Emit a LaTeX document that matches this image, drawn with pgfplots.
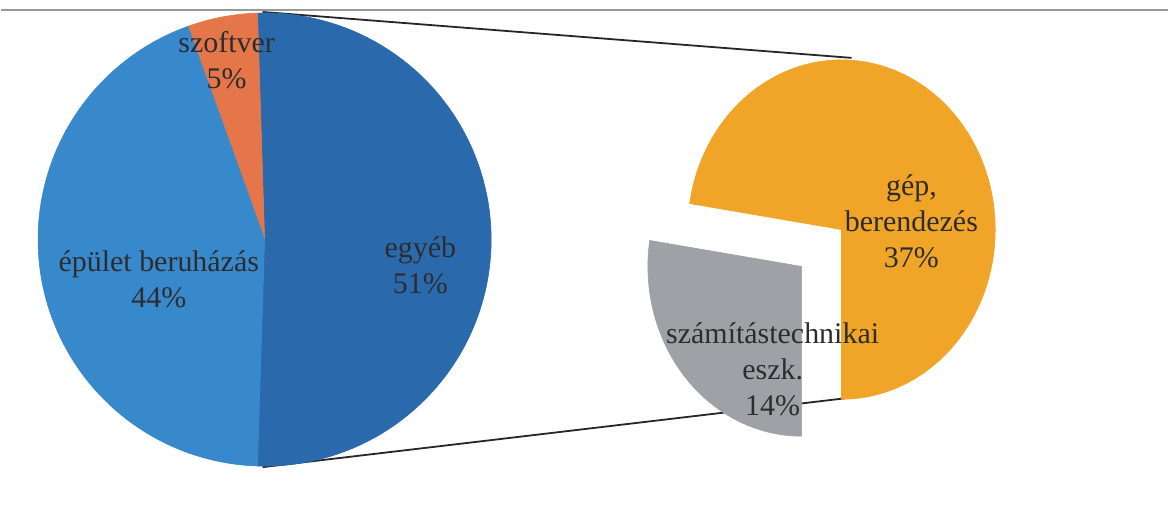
\documentclass[border=0pt]{standalone}
\usepackage{pgfplots}
\pgfplotsset{compat=1.18}
\usepackage{fontspec}
\setmainfont{Liberation Serif}
\definecolor{egyeb}{RGB}{42,106,172}
\definecolor{epulet}{RGB}{56,136,204}
\definecolor{szoftver}{RGB}{228,118,74}
\definecolor{gep}{RGB}{240,164,40}
\definecolor{szam}{RGB}{158,161,166}
\definecolor{txt}{RGB}{45,45,48}
\tikzset{lbl/.style={text=txt,align=center,font=\fontsize{15}{18}\selectfont,inner sep=0pt}}
% shares (per cent)
\def\pEgyeb{51}
\def\pEpulet{44}
\def\pSzoftver{5}
\def\pGep{37}
\def\pSzam{14}
\pgfmathsetmacro{\aA}{-1.8*\pEgyeb}
\pgfmathsetmacro{\aB}{1.8*\pEgyeb}
\pgfmathsetmacro{\aC}{\aB+3.6*\pSzoftver}
\pgfmathsetmacro{\aD}{\aC+3.6*\pEpulet}
\pgfmathsetmacro{\bA}{-90}
\pgfmathsetmacro{\bB}{-90+360*\pGep/(\pGep+\pSzam)}
\pgfmathsetmacro{\bC}{270}
\begin{document}
\begin{tikzpicture}
\begin{axis}[x=0.5pt,y=0.5pt,xmin=0,xmax=1169,ymin=0,ymax=528,
  hide axis,clip=false]
\addplot[draw=none,forget plot] coordinates {(0,0) (1169,528)};
% top rule
\addplot[gray!80,line width=1.1pt] coordinates {(0,518) (1169,518)};
% connector lines
\addplot[black!85,line width=0.9pt] coordinates {(262,516) (852,470)};
\addplot[black!85,line width=0.9pt] coordinates {(262,60) (846,129)};
% left pie
\addplot[fill=egyeb,draw=egyeb,line width=0.3pt,domain=\aA:\aB,samples=90]
  ({264+227*cos(x)},{288+227*sin(x)}) -- (axis cs:264,288) -- cycle;
\addplot[fill=szoftver,draw=szoftver,line width=0.3pt,domain=\aB:\aC,samples=20]
  ({264+227*cos(x)},{288+227*sin(x)}) -- (axis cs:264,288) -- cycle;
\addplot[fill=epulet,draw=epulet,line width=0.3pt,domain=\aC:\aD,samples=90]
  ({264+227*cos(x)},{288+227*sin(x)}) -- (axis cs:264,288) -- cycle;
% right pie
\addplot[fill=gep,draw=gep,line width=0.3pt,domain=\bA:\bB,samples=120]
  ({842+154*cos(x)},{298+170*sin(x)}) -- (axis cs:842,298) -- cycle;
\addplot[fill=szam,draw=szam,line width=0.3pt,domain=\bB:\bC,samples=60]
  ({802+154*cos(x)},{261+170*sin(x)}) -- (axis cs:802,261) -- cycle;
% labels
\node[lbl] at (axis cs:226,468) {szoftver\\5\%};
\node[lbl] at (axis cs:158,248) {épület beruházás\\44\%};
\node[lbl] at (axis cs:420,262) {egyéb\\51\%};
\node[lbl] at (axis cs:912,306) {gép,\\berendezés\\37\%};
\node[lbl] at (axis cs:773,158) {számítástechnikai\\eszk.\\14\%};
\end{axis}
\end{tikzpicture}
\end{document}
